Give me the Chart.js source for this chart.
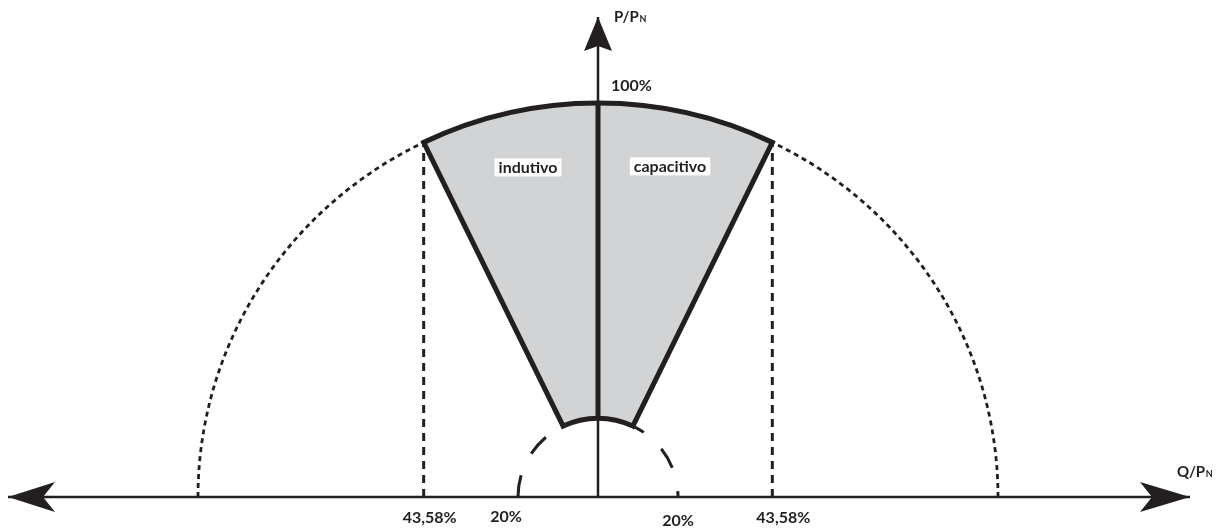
<!DOCTYPE html>
<html>
<head>
<meta charset="utf-8">
<script src="https://cdn.jsdelivr.net/npm/chart.js@4/dist/chart.umd.min.js"></script>
<style>
  body{margin:0;background:#fff}
  canvas{display:block}
</style>
</head>
<body>
<canvas id="capability" width="1224" height="529"></canvas>
<script>
// capability curve data (per unit of P_N)
let radii=[0.2, 1.0]              // inner / outer limit
let qLimit=0.4358                 // 43,58% reactive at 100%
let pAtLimit=0.9                  // power factor 0.9
let qTickValues=[-0.4358, -0.2, 0.2, 0.4358]
let qTickLabels=["43,58%", "20%", "20%", "43,58%"]
let regionNames=["indutivo", "capacitivo"]
let pTopLabel="100%"
let qAxisEnds=[-1.475, 1.48]
let pAxisEnd=1.218

let ink="#231f20"
let fillGrey="#d1d3d4"

function seg(x1,y1,x2,y2){ return [{x:x1,y:y1},{x:x2,y:y2}] }

let lineSets=[
  {data:seg(qAxisEnds[0],0,qAxisEnds[1],0), borderWidth:2.5},
  {data:seg(0,0,0,pAxisEnd), borderWidth:2.5},
  {data:seg(0,radii[0],0,radii[1]), borderWidth:5},
  {data:seg(-qLimit,0,-qLimit,pAtLimit), borderWidth:3, borderDash:[8,6]},
  {data:seg(qLimit,0,qLimit,pAtLimit), borderWidth:3, borderDash:[8,6]}
].map(d=>Object.assign({showLine:true, pointRadius:0, borderColor:ink, borderCapStyle:"butt"},d))

function centerAndRadii(chart,r){
  let x=chart.scales.x, y=chart.scales.y
  let cx=x.getPixelForValue(0), cy=y.getPixelForValue(0)
  return {cx, cy, rx:x.getPixelForValue(r)-cx, ry:cy-y.getPixelForValue(r)}
}

let phiR=-Math.acos(qLimit)
let phiL=-Math.PI+Math.acos(qLimit)

let shapes={
  id:"shapes",
  beforeDatasetsDraw(chart){
    let ctx=chart.ctx
    let inn=centerAndRadii(chart,radii[0]), out=centerAndRadii(chart,radii[1])
    ctx.save()
    // sector
    ctx.beginPath()
    ctx.ellipse(out.cx,out.cy,out.rx,out.ry,0,phiL,phiR)
    ctx.ellipse(inn.cx,inn.cy,inn.rx,inn.ry,0,phiR,phiL,true)
    ctx.closePath()
    ctx.fillStyle=fillGrey
    ctx.fill()
    ctx.strokeStyle=ink
    ctx.lineWidth=5
    ctx.lineJoin="miter"
    ctx.stroke()
    // dotted outer circle
    ctx.lineWidth=2.8
    ctx.setLineDash([5,4])
    ctx.beginPath()
    ctx.ellipse(out.cx,out.cy,out.rx,out.ry,0,-Math.PI,phiL)
    ctx.stroke()
    ctx.beginPath()
    ctx.ellipse(out.cx,out.cy,out.rx,out.ry,0,0,phiR,true)
    ctx.stroke()
    // dashed inner circle
    ctx.lineWidth=3
    ctx.setLineDash([22,24])
    ctx.beginPath()
    ctx.ellipse(inn.cx,inn.cy,inn.rx,inn.ry,0,-Math.PI,phiL)
    ctx.stroke()
    ctx.lineDashOffset=16
    ctx.beginPath()
    ctx.ellipse(inn.cx,inn.cy,inn.rx,inn.ry,0,0,phiR,true)
    ctx.stroke()
    ctx.restore()
  },
  afterDatasetsDraw(chart){
    let ctx=chart.ctx
    let x=chart.scales.x, y=chart.scales.y
    ctx.save()
    ctx.fillStyle=ink
    arrow(ctx,x.getPixelForValue(qAxisEnds[0]),y.getPixelForValue(0),-1,0,47,15,12)
    arrow(ctx,x.getPixelForValue(qAxisEnds[1]),y.getPixelForValue(0),1,0,50,15,12)
    arrow(ctx,x.getPixelForValue(0),y.getPixelForValue(pAxisEnd),0,-1,34,14,5)

    ctx.font="bold 16px Lato"
    ctx.textAlign="center"
    ctx.textBaseline="alphabetic"
    let dx=[6,-12,0,11], by=[523,522,526,523]
    qTickValues.forEach((v,i)=>{
      ctx.fillText(qTickLabels[i], x.getPixelForValue(v)+dx[i], by[i])
    })
    ctx.textAlign="left"
    ctx.fillText(pTopLabel, x.getPixelForValue(0)+13, 91)

    // axis titles with subscript
    axisTitle(ctx,"Q/P","N",1177,477)
    axisTitle(ctx,"P/P","N",x.getPixelForValue(0)+16,22)

    // region labels with white boxes
    let mid=y.getPixelForValue(pAtLimit)+25
    label(ctx,regionNames[0],x.getPixelForValue(-0.175),mid)
    label(ctx,regionNames[1],x.getPixelForValue(0.18),mid-1)
    ctx.restore()
  }
}

function arrow(ctx,tx,ty,dx,dy,len,half,notch){
  let px=-dy, py=dx
  ctx.beginPath()
  ctx.moveTo(tx,ty)
  ctx.lineTo(tx-dx*len+px*half, ty-dy*len+py*half)
  ctx.lineTo(tx-dx*(len-notch), ty-dy*(len-notch))
  ctx.lineTo(tx-dx*len-px*half, ty-dy*len-py*half)
  ctx.closePath()
  ctx.fill()
}

function axisTitle(ctx,main,sub,x,y){
  ctx.textAlign="left"
  ctx.font="bold 15px Lato"
  ctx.fillText(main,x,y)
  let w=ctx.measureText(main).width
  ctx.font="bold 9px Lato"
  ctx.fillText(sub,x+w+0.5,y)
}

function label(ctx,txt,cx,cy){
  ctx.font="bold 16px Lato"
  let w=ctx.measureText(txt).width
  ctx.fillStyle="#fff"
  ctx.fillRect(cx-w/2-4,cy-9,w+8,18)
  ctx.fillStyle=ink
  ctx.textAlign="center"
  ctx.textBaseline="middle"
  ctx.fillText(txt,cx,cy)
  ctx.textBaseline="alphabetic"
}

new Chart("capability",{
  type:"scatter",
  data:{datasets:lineSets},
  options:{
    responsive:false,
    animation:false,
    layout:{padding:0},
    plugins:{legend:{display:false}, tooltip:{enabled:false}},
    scales:{
      x:{type:"linear", min:-1.495, max:1.565, display:false},
      y:{type:"linear", min:-0.0812, max:1.2614, display:false}
    }
  },
  plugins:[shapes]
})
</script>
</body>
</html>
